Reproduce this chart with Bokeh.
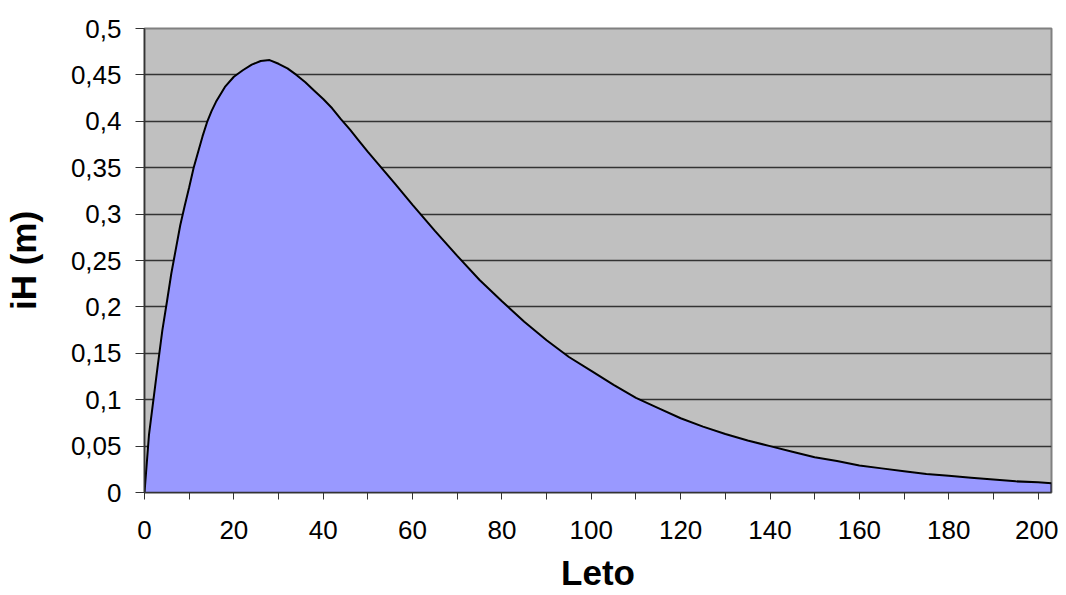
from bokeh.plotting import figure
from bokeh.models import Range1d, FixedTicker, CustomJSTickFormatter
from bokeh.embed import file_html
from bokeh.resources import INLINE

# Data
years = [0, 1, 2, 3, 4, 5, 6, 7, 8, 9, 10, 11, 12, 13, 14, 15, 16, 18, 20, 22,
         24, 26, 28, 30, 32, 34, 36, 38, 40, 42, 44, 46, 48, 50, 53, 56, 60, 65,
         70, 75, 80, 85, 90, 95, 100, 105, 110, 115, 120, 125, 130, 135, 140,
         145, 150, 155, 160, 165, 170, 175, 180, 185, 190, 195, 200, 203]
ih_m = [0.0, 0.062, 0.100, 0.138, 0.175, 0.205, 0.236, 0.262, 0.288, 0.309,
        0.329, 0.350, 0.367, 0.384, 0.399, 0.411, 0.421, 0.437, 0.448, 0.455,
        0.461, 0.465, 0.466, 0.462, 0.457, 0.450, 0.442, 0.433, 0.424, 0.414,
        0.402, 0.391, 0.379, 0.367, 0.350, 0.333, 0.310, 0.282, 0.255, 0.229,
        0.206, 0.184, 0.164, 0.146, 0.131, 0.116, 0.102, 0.091, 0.080, 0.071,
        0.063, 0.056, 0.050, 0.044, 0.038, 0.034, 0.029, 0.026, 0.023, 0.020,
        0.018, 0.016, 0.014, 0.012, 0.011, 0.010]

x_major = [0, 20, 40, 60, 80, 100, 120, 140, 160, 180, 200]
x_minor = [10, 30, 50, 70, 90, 110, 130, 150, 170, 190]
y_ticks = [0, 0.05, 0.1, 0.15, 0.2, 0.25, 0.3, 0.35, 0.4, 0.45, 0.5]

FONT = "Liberation Sans"

p = figure(width=1058, height=595, output_backend="svg", toolbar_location=None,
           x_range=Range1d(0, 203), y_range=Range1d(0, 0.5),
           min_border_left=143, min_border_right=7, min_border_top=28,
           min_border_bottom=103)

p.border_fill_color = "white"
p.outline_line_color = "#808080"
p.outline_line_width = 2
p.background_fill_color = "#C0C0C0"

# area + outline
p.varea(x=years, y1=[0] * len(years), y2=ih_m, fill_color="#9999FF", fill_alpha=1.0)
p.line(x=years + [years[-1]], y=ih_m + [0], line_color="black", line_width=2)

# grid
p.xgrid.visible = False
p.ygrid.ticker = FixedTicker(ticks=y_ticks)
p.ygrid.grid_line_color = "#333333"
p.ygrid.grid_line_width = 1.3

# x axis
xa = p.xaxis[0]
xa.ticker = FixedTicker(ticks=x_major, minor_ticks=x_minor)
xa.axis_line_color = "#333333"
xa.axis_line_width = 1.5
xa.major_tick_line_color = "#333333"
xa.minor_tick_line_color = "#333333"
xa.major_tick_in = 0
xa.major_tick_out = 7
xa.minor_tick_in = 0
xa.minor_tick_out = 7
xa.major_label_text_font = FONT
xa.major_label_text_font_size = "26px"
xa.major_label_text_color = "black"
xa.major_label_standoff = 21
xa.axis_label = "Leto"
xa.axis_label_text_font = FONT
xa.axis_label_text_font_size = "35px"
xa.axis_label_text_font_style = "bold"
xa.axis_label_text_color = "black"
xa.axis_label_standoff = 11

# y axis
ya = p.yaxis[0]
ya.ticker = FixedTicker(ticks=y_ticks)
ya.formatter = CustomJSTickFormatter(code="""
    let s = tick.toFixed(2);
    s = s.replace(/0+$/, '').replace(/\\.$/, '');
    return s.replace('.', ',');
""")
ya.axis_line_color = "#333333"
ya.axis_line_width = 1.5
ya.major_tick_line_color = "#333333"
ya.major_tick_in = 0
ya.major_tick_out = 9
ya.minor_tick_line_color = None
ya.major_label_text_font = FONT
ya.major_label_text_font_size = "26px"
ya.major_label_text_color = "black"
ya.major_label_standoff = 14
ya.axis_label = "iH (m)"
ya.axis_label_text_font = FONT
ya.axis_label_text_font_size = "35px"
ya.axis_label_text_font_style = "bold"
ya.axis_label_text_color = "black"
ya.axis_label_standoff = 25

open("out.html", "w").write(file_html(p, INLINE))
